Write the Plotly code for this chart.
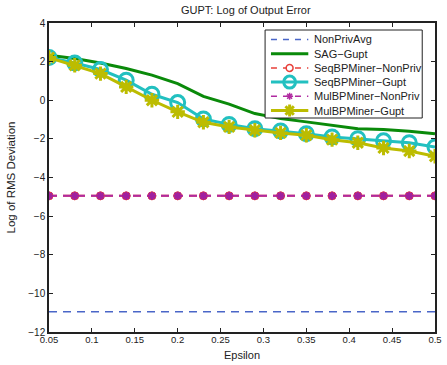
import plotly.graph_objects as go

epsilon = [0.05, 0.08, 0.11, 0.14, 0.17, 0.20, 0.23, 0.26, 0.29, 0.32, 0.35, 0.38, 0.41, 0.44, 0.47, 0.50]
nonpriv_avg = [-10.95] * 16
sag_gupt = [2.33, 2.16, 1.93, 1.64, 1.30, 0.86, 0.20, -0.20, -0.69, -0.95, -1.12, -1.30, -1.47, -1.52, -1.60, -1.73]
seq_nonpriv = [-4.95] * 16
seq_gupt = [2.21, 1.93, 1.59, 1.04, 0.31, -0.12, -0.97, -1.25, -1.47, -1.59, -1.73, -1.90, -1.99, -2.10, -2.20, -2.42]
mul_nonpriv = [-4.95] * 16
mul_gupt = [2.21, 1.81, 1.38, 0.69, 0.00, -0.60, -1.14, -1.38, -1.55, -1.69, -1.81, -2.04, -2.20, -2.47, -2.63, -2.90]

series_names = ["NonPrivAvg", "SAG\u2212Gupt", "SeqBPMiner\u2212NonPriv",
                "SeqBPMiner\u2212Gupt", "MulBPMiner\u2212NonPriv", "MulBPMiner\u2212Gupt"]

x_ticks = [0.05, 0.1, 0.15, 0.2, 0.25, 0.3, 0.35, 0.4, 0.45, 0.5]
x_tick_labels = ["0.05", "0.1", "0.15", "0.2", "0.25", "0.3", "0.35", "0.4", "0.45", "0.5"]
y_ticks = [-12, -10, -8, -6, -4, -2, 0, 2, 4]

FONT = "Liberation Sans, Arial, Helvetica, sans-serif"
TXT = "#222222"
C_BLUE = "#4a66c8"
C_GREEN = "#0a8a0a"
C_RED = "#e8403a"
C_CYAN = "#22c0c0"
C_MAG = "#b02aa0"
C_YEL = "#bcbc00"
DASH = "8px,6px"

W, H = 447, 365
ML, MR, MT, MB = 49, 5, 23, 33
PW, PH = W - ML - MR, H - MT - MB

fig = go.Figure()
fig.add_trace(go.Scatter(x=epsilon, y=nonpriv_avg, name=series_names[0], mode="lines",
                         line=dict(color=C_BLUE, width=1.5, dash=DASH)))
fig.add_trace(go.Scatter(x=epsilon, y=sag_gupt, name=series_names[1], mode="lines",
                         line=dict(color=C_GREEN, width=3)))
fig.add_trace(go.Scatter(x=epsilon, y=seq_nonpriv, name=series_names[2], mode="lines+markers",
                         line=dict(color=C_RED, width=2, dash=DASH),
                         marker=dict(symbol="circle", size=8, color=C_RED,
                                     line=dict(color=C_RED, width=1))))
fig.add_trace(go.Scatter(x=epsilon, y=seq_gupt, name=series_names[3], mode="lines+markers",
                         line=dict(color=C_CYAN, width=3),
                         marker=dict(symbol="circle-open", size=14, color=C_CYAN,
                                     line=dict(color=C_CYAN, width=3))))
fig.add_trace(go.Scatter(x=epsilon, y=mul_nonpriv, name=series_names[4], mode="lines+markers",
                         line=dict(color=C_MAG, width=2, dash=DASH),
                         marker=dict(symbol="asterisk-open", size=7, color="#a020a0",
                                     line=dict(color="#a020a0", width=2))))
fig.add_trace(go.Scatter(x=epsilon, y=mul_gupt, name=series_names[5], mode="lines+markers",
                         line=dict(color=C_YEL, width=3),
                         marker=dict(symbol="asterisk-open", size=12, color=C_YEL,
                                     line=dict(color=C_YEL, width=3))))

# ---- compact MATLAB-style legend (layout decoration) ----
def px(xp):
    return (xp - ML) / PW

def py(yp):
    return (H - MB - yp) / PH

shapes = []
annotations = []
box = (269, 30, 429, 118)
shapes.append(dict(type="rect", xref="paper", yref="paper",
                   x0=px(box[0]), x1=px(box[2]), y0=py(box[3]), y1=py(box[1]),
                   fillcolor="white", line=dict(color=TXT, width=1)))
styles = [
    (C_BLUE, 1.5, "dash", None),
    (C_GREEN, 3, "solid", None),
    (C_RED, 1.5, "dash", "dot"),
    (C_CYAN, 3, "solid", "ring"),
    (C_MAG, 1.5, "dash", "star_small"),
    (C_YEL, 3, "solid", "star_big"),
]
row0, rstep = 39.5, 14.2
lx0, lx1, mx, tx = 275, 313, 294, 317


def star_path(cx, cy, r):
    segs = []
    d = r * 0.7071
    for (dx, dy) in [(r, 0), (0, r), (d, d), (d, -d)]:
        segs.append("M%.5f,%.5f L%.5f,%.5f" % (px(cx - dx), py(cy - dy), px(cx + dx), py(cy + dy)))
    return " ".join(segs)


for i, (name, (col, lw, dash, mk)) in enumerate(zip(series_names, styles)):
    yy = row0 + i * rstep
    shapes.append(dict(type="line", xref="paper", yref="paper",
                       x0=px(lx0), x1=px(lx1), y0=py(yy), y1=py(yy),
                       line=dict(color=col, width=lw, dash=("6px,6px" if dash == "dash" else "solid"))))
    if mk == "dot":
        r = 3.5
        shapes.append(dict(type="circle", xref="paper", yref="paper",
                           x0=px(mx - r), x1=px(mx + r), y0=py(yy + r), y1=py(yy - r),
                           fillcolor="white", line=dict(color=col, width=1.5)))
    elif mk == "ring":
        r = 6
        shapes.append(dict(type="circle", xref="paper", yref="paper",
                           x0=px(mx - r), x1=px(mx + r), y0=py(yy + r), y1=py(yy - r),
                           fillcolor="rgba(0,0,0,0)", line=dict(color=col, width=3)))
    elif mk == "star_small":
        shapes.append(dict(type="path", xref="paper", yref="paper", path=star_path(mx, yy, 3.5),
                           line=dict(color=col, width=1.5)))
    elif mk == "star_big":
        shapes.append(dict(type="path", xref="paper", yref="paper", path=star_path(mx, yy, 6),
                           line=dict(color=col, width=3)))
    annotations.append(dict(text=name, xref="paper", yref="paper", x=px(tx), y=py(yy),
                            xanchor="left", yanchor="middle", showarrow=False,
                            font=dict(family=FONT, size=11, color=TXT)))

fig.update_layout(
    width=W, height=H,
    margin=dict(l=ML, r=MR, t=MT, b=MB),
    paper_bgcolor="white", plot_bgcolor="white",
    font=dict(family=FONT, size=10, color=TXT),
    title=dict(text="GUPT: Log of Output Error", x=0.55, xanchor="center", y=0.972, yanchor="middle",
               font=dict(family=FONT, size=11, color=TXT)),
    showlegend=False,
    hovermode=False,
    shapes=shapes,
    annotations=annotations,
)
fig.update_xaxes(range=[0.05, 0.5], tickvals=x_ticks, ticktext=x_tick_labels,
                 showgrid=False, zeroline=False, showline=True, linecolor=TXT, linewidth=1.5,
                 mirror="ticks", ticks="inside", ticklen=4, tickcolor=TXT,
                 ticklabelstandoff=-2,
                 title=dict(text="Epsilon", standoff=7, font=dict(size=11)),
                 tickfont=dict(size=9.5))
fig.update_yaxes(range=[-12, 4], tickvals=y_ticks,
                 showgrid=False, zeroline=False, showline=True, linecolor=TXT, linewidth=1.5,
                 mirror="ticks", ticks="inside", ticklen=4, tickcolor=TXT,
                 title=dict(text="Log of RMS Deviation", standoff=10, font=dict(size=11.5)),
                 tickfont=dict(size=10))

fig.write_html("out.html", config={"displayModeBar": False},
               post_script="document.body.style.margin='0';")
